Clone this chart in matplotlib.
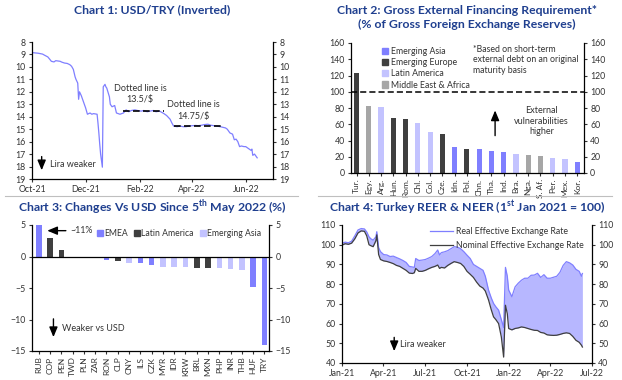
import matplotlib
matplotlib.use("Agg")
import matplotlib.pyplot as plt
import matplotlib.dates as mdates
from matplotlib.patches import Patch
from matplotlib.lines import Line2D
import pandas as pd

plt.rcParams['font.family'] = ['Lato', 'DejaVu Sans']
plt.rcParams['mathtext.fontset'] = 'custom'
plt.rcParams['mathtext.rm'] = 'Lato'
plt.rcParams['mathtext.bf'] = 'Lato:bold'
plt.rcParams['axes.linewidth'] = 0.9

TITLE_COL = "#1f3f8f"
BLUE = "#7f7fff"
DARK = "#3f3f3f"
LAV = "#c3c3ff"
GREY = "#a6a6a6"
TXT = "#333333"

# ---- Chart 1 data: USD/TRY
usdtry_dates = ["2021-10-01", "2021-10-05", "2021-10-08", "2021-10-13", "2021-10-15", "2021-10-19",
                "2021-10-21", "2021-10-23", "2021-10-26", "2021-10-28", "2021-11-02", "2021-11-04",
                "2021-11-07", "2021-11-10", "2021-11-13", "2021-11-15", "2021-11-17", "2021-11-19",
                "2021-11-20", "2021-11-22", "2021-11-23", "2021-11-24", "2021-11-26", "2021-11-29",
                "2021-12-01", "2021-12-03", "2021-12-06", "2021-12-08", "2021-12-10", "2021-12-14",
                "2021-12-15", "2021-12-16", "2021-12-17", "2021-12-18", "2021-12-20", "2021-12-21",
                "2021-12-23", "2021-12-24", "2021-12-25", "2021-12-28", "2021-12-29", "2021-12-31",
                "2022-01-03", "2022-01-05", "2022-01-09", "2022-01-13", "2022-01-16", "2022-01-19",
                "2022-01-22", "2022-01-26", "2022-01-29", "2022-02-02", "2022-02-05", "2022-02-09",
                "2022-02-12", "2022-02-16", "2022-02-19", "2022-02-23", "2022-02-28", "2022-03-03",
                "2022-03-05", "2022-03-07", "2022-03-09", "2022-03-11", "2022-03-15", "2022-03-18",
                "2022-03-22", "2022-03-25", "2022-03-29", "2022-04-01", "2022-04-05", "2022-04-08",
                "2022-04-12", "2022-04-15", "2022-04-19", "2022-04-22", "2022-04-26", "2022-04-29",
                "2022-05-03", "2022-05-06", "2022-05-09", "2022-05-11", "2022-05-14", "2022-05-17",
                "2022-05-19", "2022-05-21", "2022-05-23", "2022-05-25", "2022-05-27", "2022-05-30",
                "2022-06-01", "2022-06-03", "2022-06-07", "2022-06-08", "2022-06-09", "2022-06-11",
                "2022-06-14"]
usdtry = [8.85, 8.88, 8.9, 8.97, 9.05, 9.2,
          9.37, 9.55, 9.6, 9.5, 9.55, 9.62,
          9.69, 9.72, 9.82, 9.95, 10.2, 10.8,
          11.0, 11.3, 12.6, 12.0, 12.3, 12.9,
          13.3, 13.8, 13.7, 13.8, 13.75, 13.8,
          14.5, 15.3, 16.2, 17.0, 18.05, 11.6,
          11.4, 11.6, 11.7, 12.4, 13.0, 13.2,
          13.1, 13.7, 13.8, 13.7, 13.45, 13.6,
          13.5, 13.45, 13.5, 13.55, 13.5, 13.6,
          13.55, 13.5, 13.6, 13.55, 13.75, 13.9,
          14.05, 14.2, 14.5, 14.75, 14.8, 14.75,
          14.8, 14.8, 14.75, 14.72, 14.7, 14.72,
          14.68, 14.63, 14.6, 14.68, 14.72, 14.75,
          14.8, 14.85, 14.9, 15.0, 15.3, 15.4,
          15.85, 15.8, 16.0, 16.4, 16.35, 16.4,
          16.4, 16.5, 16.7, 16.6, 17.1, 17.0,
          17.3]
peg_levels = [13.5, 14.75]
peg_start = ["2022-01-13", "2022-03-11"]
peg_end = ["2022-02-28", "2022-05-05"]

# ---- Chart 2 data: gross external financing requirement
gefr_labels = ["Tur.", "Egy.", "Arg.", "Hun.", "Rom.", "Chl.", "Col.", "Cze.", "Idn.", "Pol.",
               "Chn.", "Tha.", "Ind.", "Bra.", "Nga.", "S. Af.", "Per.", "Mex.", "Kor."]
gefr_values = [123, 82, 81, 68, 66, 61, 51, 48, 32, 30, 30, 27, 26, 24, 22, 21, 19, 17, 13]
gefr_region = ["EE", "MEA", "LA", "EE", "EE", "LA", "LA", "EE", "AS", "EE",
               "AS", "AS", "AS", "LA", "MEA", "MEA", "LA", "LA", "AS"]

# ---- Chart 3 data: change vs USD since 5 May 2022
fx_labels = ["RUB", "COP", "PEN", "TWD", "PLN", "ZAR", "RON", "CLP", "CNY", "ILS", "CZK",
             "MYR", "IDR", "KRW", "BRL", "MXN", "PHP", "INR", "THB", "HUF", "TRY"]
fx_change = [11.0, 3.0, 1.1, -0.03, -0.05, -0.08, -0.5, -0.7, -1.0, -1.1, -1.4,
             -1.6, -1.7, -1.7, -1.8, -1.8, -1.9, -2.0, -2.1, -4.9, -14.0]
fx_region = ["EMEA", "LA", "LA", "AS", "EMEA", "EMEA", "EMEA", "LA", "AS", "EMEA", "EMEA",
             "AS", "AS", "AS", "LA", "LA", "AS", "AS", "AS", "EMEA", "EMEA"]

# ---- Chart 4 data: Turkey REER & NEER
eer_dates = ["2021-01-01", "2021-01-08", "2021-01-15", "2021-01-22", "2021-01-29", "2021-02-05",
             "2021-02-12", "2021-02-19", "2021-02-24", "2021-03-01", "2021-03-05", "2021-03-10",
             "2021-03-16", "2021-03-18", "2021-03-22", "2021-03-26", "2021-04-02", "2021-04-09",
             "2021-04-16", "2021-04-23", "2021-04-30", "2021-05-07", "2021-05-14", "2021-05-21",
             "2021-05-28", "2021-06-04", "2021-06-08", "2021-06-11", "2021-06-18", "2021-06-25",
             "2021-07-02", "2021-07-09", "2021-07-16", "2021-07-23", "2021-07-29", "2021-08-02",
             "2021-08-06", "2021-08-13", "2021-08-20", "2021-08-27", "2021-09-03", "2021-09-10",
             "2021-09-17", "2021-09-24", "2021-10-01", "2021-10-08", "2021-10-15", "2021-10-22",
             "2021-10-29", "2021-11-05", "2021-11-10", "2021-11-17", "2021-11-23", "2021-11-28",
             "2021-12-03", "2021-12-09", "2021-12-15", "2021-12-20", "2021-12-24", "2021-12-28",
             "2021-12-31", "2022-01-07", "2022-01-14", "2022-01-21", "2022-01-28", "2022-02-04",
             "2022-02-11", "2022-02-18", "2022-02-25", "2022-03-04", "2022-03-11", "2022-03-18",
             "2022-03-25", "2022-04-01", "2022-04-08", "2022-04-15", "2022-04-22", "2022-04-29",
             "2022-05-06", "2022-05-13", "2022-05-20", "2022-05-27", "2022-06-03", "2022-06-08",
             "2022-06-10"]
reer = [100.7, 101.3, 101.0, 101.8, 104.5, 107.5,
        108.2, 108.0, 106.5, 104.0, 103.0, 102.3,
        104.0, 106.6, 98.5, 96.5, 95.0, 94.8,
        94.0, 94.2, 93.5, 92.8, 92.0, 91.0,
        89.0, 88.7, 88.5, 93.0, 92.0, 92.2,
        92.5, 93.2, 94.0, 95.5, 97.3, 94.8,
        96.0, 96.4, 97.0, 98.0, 99.0, 98.8,
        98.0, 96.5, 94.7, 93.0, 90.0, 89.0,
        88.0, 87.0, 84.0, 77.0, 73.0, 70.2,
        68.5, 66.8, 62.0, 58.0, 88.5, 84.0,
        77.0, 73.6, 78.6, 80.5, 82.0, 83.0,
        83.0, 84.5, 84.6, 85.5, 83.4, 84.8,
        83.0, 83.0, 83.5, 84.0, 86.0, 89.5,
        91.4, 90.8, 89.7, 87.5, 86.5, 84.0,
        85.4]
neer = [99.8, 100.5, 100.2, 100.8, 103.0, 106.0,
        107.0, 106.8, 104.5, 100.0, 99.5, 99.0,
        102.0, 105.0, 95.0, 92.5, 91.8, 91.5,
        91.0, 90.4, 89.5, 89.0, 88.0, 87.0,
        85.6, 85.4, 85.8, 88.0, 86.5, 86.5,
        87.0, 87.8, 88.5, 89.0, 89.7, 88.0,
        88.5, 88.2, 89.5, 90.5, 91.4, 91.0,
        90.5, 89.0, 86.5, 85.0, 83.4, 81.0,
        79.0, 78.0, 76.5, 72.0, 67.0, 63.4,
        62.0, 60.0, 53.2, 43.0, 69.3, 65.0,
        57.5, 56.8, 57.5, 57.8, 58.3, 58.0,
        57.5, 57.0, 56.6, 56.5, 55.5, 55.2,
        54.3, 54.1, 54.0, 54.1, 54.5, 55.0,
        55.3, 55.0, 53.5, 51.5, 50.5, 49.0,
        48.1]

W, H = 622, 380


def rect(l, t, r, b):
    return [l / W, 1 - b / H, (r - l) / W, (b - t) / H]


def style(ax):
    ax.spines['top'].set_visible(False)
    ax.tick_params(axis='both', labelsize=6.3, colors=TXT, length=2.5, width=0.8,
                   pad=2, labelcolor=TXT)
    ax.tick_params(axis='y', left=True, right=True, labelleft=True, labelright=True)
    for s in ax.spines.values():
        s.set_color('black')


def arrow(ax, xy, xytext):
    ax.annotate("", xy=xy, xytext=xytext,
                arrowprops=dict(arrowstyle='-|>,head_length=0.6,head_width=0.25',
                                color='black', lw=1.0, mutation_scale=10,
                                shrinkA=0, shrinkB=0))


fig = plt.figure(figsize=(W / 100, H / 100), dpi=100)

# separators
fig.add_artist(Line2D([5 / W, 298 / W], [1 - 196 / H] * 2, color="#bfbfbf", lw=0.8))
fig.add_artist(Line2D([318 / W, 612 / W], [1 - 196 / H] * 2, color="#bfbfbf", lw=0.8))

tkw = dict(ha='center', va='center', fontsize=8.8, fontweight='bold', color=TITLE_COL)
fig.text(152 / W, 1 - 10 / H, "Chart 1: USD/TRY (Inverted)", **tkw)
fig.text(467 / W, 1 - 10 / H, "Chart 2: Gross External Financing Requirement*", **tkw)
fig.text(467 / W, 1 - 24 / H, "(% of Gross Foreign Exchange Reserves)", **tkw)
fig.text(152 / W, 1 - 208 / H, r"Chart 3: Changes Vs USD Since 5$^{\mathbf{th}}$ May 2022 (%)", **tkw)
fig.text(467 / W, 1 - 208 / H, r"Chart 4: Turkey REER & NEER (1$^{\mathbf{st}}$ Jan 2021 = 100)", **tkw)

# ---------------- Chart 1
ax1 = fig.add_axes(rect(32, 42, 273, 179))
d1 = pd.to_datetime(usdtry_dates)
ax1.plot(d1, usdtry, color=BLUE, lw=0.9)
for lvl, s, e in zip(peg_levels, peg_start, peg_end):
    ax1.plot(pd.to_datetime([s, e]), [lvl, lvl], color='black', lw=1.2, ls=(0, (4, 2)))
ax1.set_ylim(19, 8)
ax1.set_yticks(range(8, 20))
ax1.set_xlim(pd.Timestamp("2021-10-01"), pd.Timestamp("2022-07-02"))
ax1.set_xticks(pd.to_datetime(["2021-10-01", "2021-12-01", "2022-02-01", "2022-04-01", "2022-06-01"]))
ax1.xaxis.set_major_formatter(mdates.DateFormatter('%b-%y'))
style(ax1)
ax1.text(pd.Timestamp("2022-02-01"), 12.2, "Dotted line is\n13.5/$", fontsize=6.5, color=TXT,
         ha='center', va='center', linespacing=1.3)
ax1.text(pd.Timestamp("2022-04-02"), 13.5, "Dotted line is\n14.75/$", fontsize=6.5, color=TXT,
         ha='center', va='center', linespacing=1.3)
arrow(ax1, (pd.Timestamp("2021-10-12"), 18.3), (pd.Timestamp("2021-10-12"), 17.2))
ax1.text(pd.Timestamp("2021-10-22"), 17.8, "Lira weaker", fontsize=6.5, color=TXT, va='center')

# ---------------- Chart 2
ax2 = fig.add_axes(rect(351, 43, 584, 173))
cmap2 = {"AS": BLUE, "EE": DARK, "LA": LAV, "MEA": GREY}
x2 = range(len(gefr_values))
ax2.bar(x2, gefr_values, width=0.42, color=[cmap2[r] for r in gefr_region])
ax2.axhline(100, color='black', lw=1.1, ls=(0, (4, 2)))
ax2.set_ylim(0, 160)
ax2.set_yticks(range(0, 161, 20))
ax2.set_xlim(-0.45, 18.55)
ax2.set_xticks(list(x2))
ax2.set_xticklabels(gefr_labels, rotation=90, fontsize=6)
style(ax2)
ax2.tick_params(axis='x', labelsize=6, length=2)
h2 = [Patch(color=BLUE, label="Emerging Asia"), Patch(color=DARK, label="Emerging Europe"),
      Patch(color=LAV, label="Latin America"), Patch(color=GREY, label="Middle East & Africa")]
ax2.legend(handles=h2, loc='upper left', bbox_to_anchor=(0.1, 1.03), frameon=False, fontsize=6.3,
           handlelength=0.7, handleheight=0.7, handletextpad=0.3, labelspacing=0.25, labelcolor=TXT)
ax2.text(0.525, 0.985, "*Based on short-term\nexternal debt on an original\nmaturity basis",
         transform=ax2.transAxes, fontsize=6.3, color=TXT, va='top', ha='left', linespacing=1.2)
arrow(ax2, (11.3, 77), (11.3, 46))
ax2.text(15.1, 64, "External\nvulnerabilities\nhigher", fontsize=6.5, color=TXT,
         ha='center', va='center', linespacing=1.2)

# ---------------- Chart 3
ax3 = fig.add_axes(rect(32, 225, 269, 351))
cmap3 = {"EMEA": BLUE, "LA": DARK, "AS": LAV}
x3 = range(len(fx_change))
ax3.bar(x3, fx_change, width=0.5, color=[cmap3[r] for r in fx_region])
ax3.axhline(0, color='black', lw=0.9)
ax3.set_ylim(-15, 5)
ax3.set_yticks([5, 0, -5, -10, -15])
ax3.set_xlim(-0.6, 20.4)
ax3.set_xticks(list(x3))
ax3.set_xticklabels(fx_labels, rotation=90, fontsize=6)
style(ax3)
ax3.tick_params(axis='x', labelsize=6, length=2)
h3 = [Patch(color=BLUE, label="EMEA"), Patch(color=DARK, label="Latin America"),
      Patch(color=LAV, label="Emerging Asia")]
ax3.legend(handles=h3, loc='upper right', bbox_to_anchor=(1.0, 1.03), ncol=3, frameon=False,
           fontsize=6.2, handlelength=0.7, handleheight=0.7, handletextpad=0.15,
           columnspacing=0.7, labelcolor=TXT)
arrow(ax3, (0.75, 4.1), (2.4, 4.1))
ax3.text(2.8, 4.1, "~11%", fontsize=6.3, color=TXT, va='center')
arrow(ax3, (1.3, -12.8), (1.3, -9.9))
ax3.text(2.1, -11.5, "Weaker vs USD", fontsize=6.5, color=TXT, va='center')

# ---------------- Chart 4
ax4 = fig.add_axes(rect(342, 225, 592, 363))
d4 = pd.to_datetime(eer_dates)
ax4.fill_between(d4, neer, reer, color="#b7b7ff", lw=0)
ax4.plot(d4, reer, color=BLUE, lw=0.9, label="Real Effective Exchange Rate")
ax4.plot(d4, neer, color=DARK, lw=0.9, label="Nominal Effective Exchange Rate")
ax4.set_ylim(40, 110)
ax4.set_yticks(range(40, 111, 10))
ax4.set_xlim(pd.Timestamp("2021-01-01"), pd.Timestamp("2022-07-01"))
ax4.set_xticks(pd.to_datetime(["2021-01-01", "2021-04-01", "2021-07-01", "2021-10-01",
                               "2022-01-01", "2022-04-01", "2022-07-01"]))
ax4.xaxis.set_major_formatter(mdates.DateFormatter('%b-%y'))
style(ax4)
ax4.legend(loc='upper right', bbox_to_anchor=(1.0, 1.04), frameon=False, fontsize=6.3,
           handlelength=2.6, handletextpad=0.4, labelspacing=0.5, labelcolor=TXT)
arrow(ax4, (pd.Timestamp("2021-04-25"), 46.0), (pd.Timestamp("2021-04-25"), 53.0))
ax4.text(pd.Timestamp("2021-05-08"), 49.5, "Lira weaker", fontsize=6.5, color=TXT, va='center')

fig.savefig("out.png", dpi=100)
